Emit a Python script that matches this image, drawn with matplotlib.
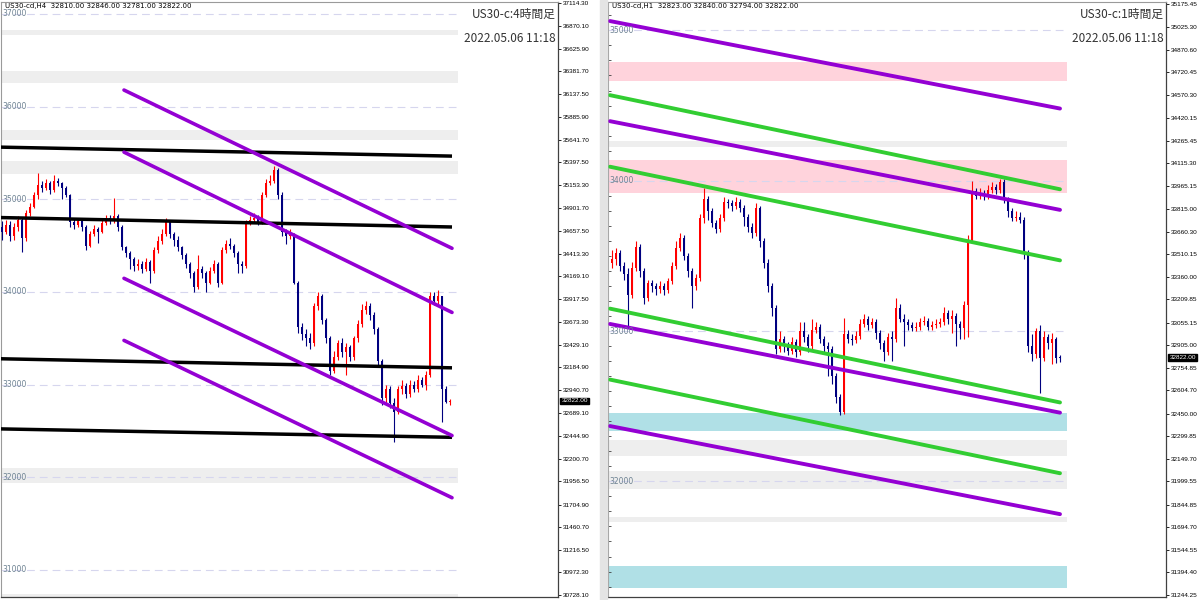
import matplotlib
matplotlib.use("Agg")
import matplotlib.pyplot as plt
import numpy as np
from matplotlib.patches import Rectangle
from matplotlib.ticker import MultipleLocator
from matplotlib.transforms import blended_transform_factory

plt.rcParams['font.family'] = ['DejaVu Sans']
JP = ['Noto Sans CJK JP', 'DejaVu Sans']

# ---------------- H4 (left) ----------------
h4_open = [34700, 34650, 34720, 34600, 34700, 34780, 34580, 34850, 34920, 35050,
           35150, 35120, 35180, 35100, 35200, 35170, 35120, 35050, 34750, 34720,
           34760, 34700, 34500, 34620, 34680, 34650, 34740, 34800, 34760, 34820,
           34700, 34480, 34420, 34350, 34280, 34300, 34250, 34320, 34220, 34450,
           34550, 34620, 34760, 34620, 34560, 34480, 34400, 34300, 34200, 34050,
           34250, 34200, 34100, 34230, 34300, 34100, 34450, 34520, 34500, 34420,
           34300, 34280, 34750, 34780, 34800, 34750, 35050, 35180, 35200, 35320,
           35050, 34650, 34600, 34620, 34100, 33620, 33550, 33500, 33450, 33850,
           33950, 33700, 33500, 33150, 33300, 33450, 33350, 33400, 33300, 33500,
           33650, 33800, 33850, 33750, 33600, 33250, 32850, 32950, 32800, 32700,
           32950, 32980, 32900, 33000, 32950, 33050, 33000, 33100, 33950, 33900,
           33950, 32950, 32810]
h4_close = [34650, 34720, 34600, 34700, 34780, 34580, 34850, 34920, 35050, 35150,
            35120, 35180, 35100, 35200, 35170, 35120, 35050, 34750, 34720, 34760,
            34700, 34500, 34620, 34680, 34650, 34740, 34800, 34760, 34820, 34700,
            34480, 34420, 34350, 34280, 34300, 34250, 34320, 34220, 34450, 34550,
            34620, 34760, 34620, 34560, 34480, 34400, 34300, 34200, 34050, 34250,
            34200, 34100, 34230, 34300, 34100, 34450, 34520, 34500, 34420, 34300,
            34280, 34750, 34780, 34800, 34750, 35050, 35180, 35200, 35320, 35050,
            34650, 34600, 34620, 34100, 33620, 33550, 33500, 33450, 33850, 33950,
            33700, 33500, 33150, 33300, 33450, 33350, 33400, 33300, 33500, 33650,
            33800, 33850, 33750, 33600, 33250, 32850, 32950, 32800, 32700, 32950,
            32980, 32900, 33000, 32950, 33050, 33000, 33100, 33950, 33900, 33950,
            32950, 32810, 32822]
h4_high = [34760, 34780, 34760, 34740, 34820, 34800, 34880, 34960, 35080, 35280,
           35200, 35220, 35200, 35260, 35230, 35190, 35140, 35060, 34790, 34800,
           34790, 34720, 34660, 34720, 34700, 34780, 34830, 34830, 35010, 34840,
           34720, 34500, 34440, 34380, 34350, 34330, 34360, 34340, 34480, 34600,
           34680, 34800, 34780, 34650, 34600, 34500, 34420, 34320, 34220, 34400,
           34280, 34230, 34270, 34340, 34320, 34480, 34560, 34580, 34520, 34440,
           34330, 34780, 34820, 34850, 34830, 35080, 35220, 35260, 35360, 35340,
           35080, 34680, 34680, 34640, 34120, 33660, 33600, 33560, 33880, 34000,
           33980, 33720, 33520, 33360, 33480, 33500, 33450, 33430, 33520, 33700,
           33870, 33900, 33880, 33780, 33620, 33280, 33000, 32980, 32850, 32980,
           33050, 33020, 33050, 33040, 33100, 33080, 33150, 34000, 34000, 34020,
           33960, 32980, 32846]
h4_low = [34560, 34620, 34550, 34560, 34660, 34430, 34550, 34820, 34900, 35000,
          35080, 35100, 35060, 35080, 35140, 35000, 35020, 34700, 34680, 34700,
          34660, 34450, 34480, 34600, 34530, 34630, 34720, 34730, 34740, 34660,
          34450, 34380, 34250, 34220, 34240, 34200, 34230, 34100, 34200, 34420,
          34520, 34600, 34580, 34500, 34440, 34350, 34260, 34150, 34000, 34030,
          34150, 34000, 34080, 34200, 34050, 34080, 34420, 34460, 34380, 34200,
          34200, 34260, 34720, 34740, 34720, 34730, 35020, 35150, 35180, 35000,
          34600, 34520, 34570, 34080, 33560, 33480, 33420, 33380, 33420, 33800,
          33650, 33450, 33100, 33120, 33260, 33300, 33100, 33250, 33260, 33460,
          33620, 33760, 33700, 33550, 33200, 32780, 32800, 32750, 32380, 32680,
          32900, 32850, 32870, 32920, 32920, 32970, 32940, 33080, 33860, 33850,
          32600, 32800, 32781]

h4_black_lines = [(35562, 35465), (34802, 34700), (33278, 33180), (32521, 32430)]
h4_purple_lines = [(36178, 34470), (35508, 33778), (34146, 32449), (33476, 31778)]
h4_bands = [(36773, 36827), (36254, 36384), (35638, 35746), (35270, 35411),
            (31941, 32103), (30600, 30741)]
h4_grid = [37000, 36000, 35000, 34000, 33000, 32000, 31000]
h4_ticks = [37114.30, 36870.10, 36625.90, 36381.70, 36137.50, 35885.90, 35641.70,
            35397.50, 35153.30, 34901.70, 34657.50, 34413.30, 34169.10, 33917.50,
            33673.30, 33429.10, 33184.90, 32940.70, 32689.10, 32444.90, 32200.70,
            31956.50, 31704.90, 31460.70, 31216.50, 30972.30, 30728.10]

# ---------------- H1 (right) ----------------
h1_open = [33450, 33480, 33520, 33430, 33380, 33240, 33420, 33560, 33400, 33220,
           33320, 33300, 33280, 33300, 33270, 33330, 33430, 33550, 33620, 33500,
           33400, 33300, 33350, 33750, 33880, 33800, 33720, 33680, 33750, 33860,
           33850, 33830, 33860, 33820, 33760, 33690, 33650, 33820, 33600, 33450,
           33300, 33150, 32880, 32950, 32900, 32870, 32930, 32860, 33000, 32960,
           32900, 33010, 33030, 32950, 32900, 32880, 32700, 32560, 32460, 32980,
           32950, 32940, 32970, 33050, 33080, 33040, 33060, 32990, 32920, 32860,
           32960, 32950, 33150, 33080, 33060, 33040, 33020, 33030, 33060, 33070,
           33030, 33040, 33050, 33060, 33120, 33080, 33100, 33050, 33020, 33170,
           33600, 33930, 33900, 33920, 33900, 33940, 33960, 33940, 33990, 33870,
           33800, 33750, 33760, 33740, 33520, 32900, 32850, 33000, 32820, 32960,
           32920, 32950, 32823]
h1_close = [33480, 33520, 33430, 33380, 33240, 33420, 33560, 33400, 33220, 33320,
            33300, 33280, 33300, 33270, 33330, 33430, 33550, 33620, 33500, 33400,
            33300, 33350, 33750, 33880, 33800, 33720, 33680, 33750, 33860, 33850,
            33830, 33860, 33820, 33760, 33690, 33650, 33820, 33600, 33450, 33300,
            33150, 32880, 32950, 32900, 32870, 32930, 32860, 33000, 32960, 32900,
            33010, 33030, 32950, 32900, 32880, 32700, 32560, 32460, 32980, 32950,
            32940, 32970, 33050, 33080, 33040, 33060, 32990, 32920, 32860, 32960,
            32950, 33150, 33080, 33060, 33040, 33020, 33030, 33060, 33070, 33030,
            33040, 33050, 33060, 33120, 33080, 33100, 33050, 33020, 33170, 33600,
            33930, 33900, 33920, 33900, 33940, 33960, 33940, 33990, 33870, 33800,
            33750, 33760, 33740, 33520, 32900, 32850, 33000, 32820, 32960, 32920,
            32950, 32823, 32822]
h1_high = [33540, 33550, 33540, 33460, 33420, 33460, 33600, 33580, 33420, 33340,
           33340, 33320, 33330, 33320, 33350, 33460, 33600, 33650, 33640, 33520,
           33420, 33380, 33780, 33950, 33900, 33820, 33740, 33780, 33890, 33880,
           33870, 33890, 33880, 33840, 33780, 33720, 33850, 33830, 33620, 33480,
           33320, 33170, 33000, 32970, 32930, 32960, 32950, 33060, 33060, 32980,
           33080, 33060, 33050, 32970, 32930, 32900, 32720, 32580, 33090, 33010,
           32980, 33000, 33080, 33110, 33100, 33090, 33080, 33010, 32940, 32990,
           33000, 33220, 33180, 33110, 33080, 33060, 33060, 33090, 33100, 33090,
           33070, 33080, 33090, 33160, 33140, 33140, 33120, 33070, 33200, 33640,
           34000, 33950, 33950, 33940, 33970, 33990, 33980, 34010, 34010, 33890,
           33820, 33800, 33790, 33760, 33540, 32980, 33020, 33040, 33000, 32980,
           32990, 32960, 32840]
h1_low = [33420, 33440, 33400, 33340, 33020, 33220, 33400, 33360, 33180, 33200,
          33260, 33240, 33250, 33240, 33250, 33310, 33410, 33530, 33470, 33360,
          33150, 33270, 33330, 33720, 33740, 33690, 33650, 33660, 33730, 33820,
          33800, 33810, 33790, 33700, 33660, 33620, 33630, 33560, 33420, 33260,
          33100, 32850, 32860, 32860, 32840, 32850, 32830, 32840, 32930, 32860,
          32880, 32990, 32920, 32860, 32700, 32650, 32520, 32440, 32450, 32920,
          32910, 32920, 32950, 33030, 33010, 33020, 32950, 32880, 32800, 32840,
          32800, 32930, 33060, 32900, 33010, 33000, 33000, 33010, 33040, 33010,
          33010, 33020, 33030, 33040, 33050, 32990, 32900, 32950, 32950, 32960,
          33590, 33880, 33880, 33870, 33880, 33920, 33910, 33920, 33850, 33760,
          33730, 33730, 33720, 33480, 32860, 32800, 32820, 32590, 32800, 32880,
          32780, 32790, 32794]

h1_purple_lines = [(35062, 34480), (34396, 33806), (33047, 32457), (32368, 31782)]
h1_green_lines = [(34569, 33943), (34093, 33470), (33149, 32525), (32677, 32054)]
h1_pink_bands = [(34664, 34790), (33920, 34137)]
h1_cyan_bands = [(32335, 32452), (31291, 31437)]
h1_gray_bands = [(34226, 34265), (32169, 32275), (31948, 32069), (31729, 31762)]
h1_grid = [35000, 34000, 33000, 32000]
h1_ticks = [35175.45, 35025.30, 34870.60, 34720.45, 34570.30, 34420.15, 34265.45,
            34115.30, 33965.15, 33815.00, 33660.30, 33510.15, 33360.00, 33209.85,
            33055.15, 32905.00, 32754.85, 32604.70, 32450.00, 32299.85, 32149.70,
            31999.55, 31844.85, 31694.70, 31544.55, 31394.40, 31244.25]

last_price = 32822.00

UP = '#ff0000'
DOWN = '#00007f'
PURPLE = '#9400d3'
GREEN = '#32cd32'
SMALL = ['Liberation Sans', 'DejaVu Sans']


def draw_candles(ax, o, h, l, c):
    o, h, l, c = map(np.asarray, (o, h, l, c))
    x = np.arange(len(c))
    cols = np.where(c >= o, UP, DOWN)
    ax.vlines(x, l, h, colors=cols, lw=0.8, zorder=3)
    body = np.maximum(np.abs(c - o), 6)
    ax.bar(x, body, bottom=np.minimum(o, c), width=0.6, color=cols, lw=0, zorder=3)


def setup_axis(ax, xlim, ylim, ticks, grid, end_x):
    ax.set_xlim(*xlim)
    ax.set_ylim(*ylim)
    ax.set_xticks([])
    ax.yaxis.set_ticks_position('right')
    ax.set_yticks(ticks)
    ax.set_yticklabels([f'{t:.2f}' for t in ticks])
    ax.tick_params(axis='y', which='major', direction='out', length=2.5, width=0.6,
                   pad=1.2, labelsize=4.6, colors='black')
    for lab in ax.get_yticklabels():
        lab.set_family(SMALL)
    ax.hlines(grid, xlim[0], end_x, colors='#d6d6ee', lw=0.8,
              linestyles=(0, (7, 4.5)), zorder=2)
    for g in grid:
        ax.text(0.35 + xlim[0], g, str(g), fontsize=5.5, color='#6d8292',
                va='center', ha='left', zorder=5)
    for side in ['left', 'top']:
        ax.spines[side].set_color('#9a9a9a')
        ax.spines[side].set_linewidth(0.8)
    for side in ['right', 'bottom']:
        ax.spines[side].set_color('#404040')
        ax.spines[side].set_linewidth(0.9)
    trans = blended_transform_factory(ax.transAxes, ax.transData)
    ax.text(1.006, last_price, f'{last_price:.2f}', transform=trans, fontsize=4.6,
            color='white', va='center', ha='left', zorder=6, family=SMALL,
            bbox=dict(boxstyle='square,pad=0.15', fc='black', ec='black'))


fig = plt.figure(figsize=(12, 6), dpi=100)
fig.patch.set_facecolor('white')

# separator between windows
fig.patches.append(Rectangle((600 / 1200, 0), 7 / 1200, 1, transform=fig.transFigure,
                             color='#e4e4e4', zorder=0))

# ---- left H4 panel ----
ax1 = fig.add_axes([1 / 1200, 3 / 600, 557 / 1200, 595 / 600])
x1_lim = (-0.25, 139.0)
x1_end = 114
setup_axis(ax1, x1_lim, (30706.6, 37128.3), h4_ticks, h4_grid, x1_end)
for lo, hi in h4_bands:
    ax1.fill_between([x1_lim[0], x1_end], lo, hi, color='#eeeeee', lw=0, zorder=1)
draw_candles(ax1, h4_open, h4_high, h4_low, h4_close)
for p0, p1 in h4_black_lines:
    ax1.plot([-0.5, 112.5], [p0, p1], color='black', lw=2.5, zorder=4,
             solid_capstyle='butt')
for p0, p1 in h4_purple_lines:
    ax1.plot([30.5, 112.5], [p0, p1], color=PURPLE, lw=2.6, zorder=4,
             solid_capstyle='round')

# ---- right H1 panel ----
ax2 = fig.add_axes([608 / 1200, 3 / 600, 558 / 1200, 595 / 600])
x2_lim = (-1.0, 138.5)
x2_end = 113.75
setup_axis(ax2, x2_lim, (31230.8, 35188.75), h1_ticks, h1_grid, x2_end)
ax2.yaxis.set_minor_locator(MultipleLocator(100))
ax2.tick_params(axis='y', which='minor', left=True, right=False, direction='in',
                length=2.5, width=0.6, colors='#404040')
for lo, hi in h1_pink_bands:
    ax2.fill_between([x2_lim[0], x2_end], lo, hi, color='#ffd3dc', lw=0, zorder=1)
for lo, hi in h1_cyan_bands:
    ax2.fill_between([x2_lim[0], x2_end], lo, hi, color='#b0e0e6', lw=0, zorder=1)
for lo, hi in h1_gray_bands:
    ax2.fill_between([x2_lim[0], x2_end], lo, hi, color='#eeeeee', lw=0, zorder=1)
draw_candles(ax2, h1_open, h1_high, h1_low, h1_close)
for p0, p1 in h1_green_lines:
    ax2.plot([-0.5, 112], [p0, p1], color=GREEN, lw=2.8, zorder=4,
             solid_capstyle='round')
for p0, p1 in h1_purple_lines:
    ax2.plot([-0.5, 112], [p0, p1], color=PURPLE, lw=2.8, zorder=4,
             solid_capstyle='round')

# ---- header texts ----
fig.text(5 / 1200, 1 - 6 / 600, 'US30-cd,H4  32810.00 32846.00 32781.00 32822.00',
         fontsize=5, va='center', ha='left', color='black')
fig.text(612 / 1200, 1 - 6 / 600, 'US30-cd,H1  32823.00 32840.00 32794.00 32822.00',
         fontsize=5, va='center', ha='left', color='black')
fig.text(556 / 1200, 1 - 14 / 600, 'US30-c:4時間足', fontsize=8.5, family=JP,
         va='center', ha='right', color='#333333')
fig.text(556 / 1200, 1 - 38 / 600, '2022.05.06 11:18', fontsize=8.5, family=JP,
         va='center', ha='right', color='#333333')
fig.text(1164 / 1200, 1 - 14 / 600, 'US30-c:1時間足', fontsize=8.5, family=JP,
         va='center', ha='right', color='#333333')
fig.text(1164 / 1200, 1 - 38 / 600, '2022.05.06 11:18', fontsize=8.5, family=JP,
         va='center', ha='right', color='#333333')

fig.savefig('out.png', dpi=100)
